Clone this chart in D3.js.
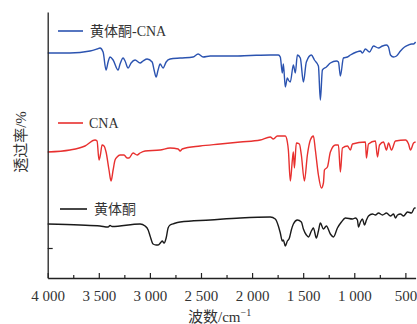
<!DOCTYPE html>
<html><head><meta charset="utf-8">
<script src="https://cdn.jsdelivr.net/npm/d3@7"></script>
<style>
body{margin:0;background:#fff;}
svg{display:block;font-family:"Liberation Serif","Noto Sans CJK SC",serif;}
</style></head>
<body><svg id="c" width="417" height="324"></svg>
<script>
// wavenumber (cm-1), transmittance (offset arbitrary units)
const seriesNames = ["黄体酮-CNA", "CNA", "黄体酮"];
const seriesColors = ["#2b53b0", "#e8302f", "#1a1a1a"];
const blueData = [[4000,225],[3782,225],[3586,227],[3517,229],[3488,230],[3458,226],[3429,208],[3409,216],[3390,221],[3360,218],[3311,208],[3292,214],[3262,220],[3243,217],[3213,210],[3184,215],[3145,218],[3096,215],[3067,217],[3027,219],[2978,216],[2959,208],[2939,201],[2920,208],[2900,214],[2871,210],[2841,216],[2802,219],[2704,220],[2577,221],[2528,224],[2479,221],[2410,222],[2185,222],[2018,222.5],[1822,223],[1743,223],[1724,221],[1704,205],[1694,214],[1675,191],[1655,200],[1645,198],[1626,196],[1596,213],[1577,205],[1557,223],[1528,220],[1498,196],[1469,216],[1420,223],[1390,218],[1351,212],[1332,178],[1312,208],[1273,211],[1234,215],[1175,217],[1155,216],[1136,202],[1106,220],[1067,221],[1038,223],[979,226],[940,227],[920,225],[891,229],[851,226],[812,232],[763,230],[724,232],[685,233],[665,231],[646,223],[616,221],[587,222],[548,227],[508,231],[469,233],[440,234],[420,234],[400,236]];
const redData = [[4000,126],[3782,128],[3635,132],[3537,138],[3517,137],[3498,118],[3483,124],[3468,133],[3449,132],[3429,126],[3400,108],[3380,97],[3360,108],[3341,118],[3321,121],[3292,123],[3253,123],[3223,120],[3204,120],[3165,125],[3125,123],[3096,125],[3047,127],[2900,128],[2802,130],[2723,129],[2704,127],[2684,129],[2508,132],[2312,134],[2116,136],[1920,138],[1822,141],[1792,139],[1753,142],[1675,142],[1655,136],[1645,128],[1626,97],[1606,118],[1596,126],[1586,110],[1567,135],[1537,134],[1518,123],[1488,97],[1459,123],[1430,138],[1400,142],[1381,128],[1351,103],[1322,90],[1302,95],[1292,108],[1263,111],[1234,126],[1185,133],[1155,133],[1136,106],[1116,130],[1067,132],[1038,128],[1018,134],[891,136],[881,120],[861,134],[793,137],[773,121],[753,133],[714,136],[685,128],[665,135],[636,128],[597,137],[499,138],[469,134],[450,128],[420,135],[400,136]];
const blackData = [[4000,54],[3684,53],[3488,52],[3409,51],[3390,52.5],[3370,51.5],[3096,54],[3047,52],[3017,48],[2998,42],[2969,34],[2939,33],[2920,33],[2890,36],[2880,37],[2861,35],[2841,40],[2822,50],[2802,53],[2763,54.5],[2704,56],[2410,58],[2116,60],[1822,61],[1773,59],[1743,52],[1724,45],[1704,37],[1694,38],[1675,32],[1655,37],[1635,40],[1616,48],[1596,54],[1557,58],[1518,56],[1498,49],[1469,43],[1449,41],[1420,47],[1400,50],[1371,40],[1351,47],[1332,55],[1302,49],[1273,52],[1234,44],[1204,41],[1165,50],[1126,56],[1087,60],[1018,59],[989,60],[969,58],[959,51],[940,56],[920,59],[900,53],[881,58],[861,62],[822,64],[793,63],[763,65],[724,63],[685,65],[646,62],[616,64],[597,60],[577,63],[548,64],[518,62],[479,66],[440,65],[410,70],[400,70]];
const xMajorTicks = [4000,3500,3000,2500,2000,1500,1000,500];
const xMinorTicks = [3750,3250,2750,2250,1750,1250,750];
const xTickLabels = ["4 000","3 500","3 000","2 500","2 000","1 500","1 000","500"];
const yTicks = [30];
const xTitle = "波数/cm";
const yTitle = "透过率/%";

const svg = d3.select("#c");
const x = d3.scaleLinear().domain([4000,400]).range([47.7,415.6]);
const y = d3.scaleLinear().domain([0,266]).range([278,12]);

const line = d3.line().x(d=>x(d[0])).y(d=>y(d[1])).curve(d3.curveMonotoneX);
[blueData, redData, blackData].forEach((data,i)=>{
  svg.append("path").datum(data).attr("d",line).attr("fill","none")
    .attr("stroke",seriesColors[i]).attr("stroke-width",1.4).attr("stroke-linejoin","round");
});

// axes
const gx = svg.append("g").attr("transform",`translate(0,${y(0)})`)
  .call(d3.axisBottom(x).tickValues(xMajorTicks).tickSizeInner(-5).tickSizeOuter(0).tickPadding(12)
    .tickFormat((d,i)=>xTickLabels[i]));
gx.selectAll("text").attr("font-size",15).attr("fill","#333").attr("font-family","Liberation Serif");
gx.select(".domain").attr("stroke","#222").attr("stroke-width",1.3);
gx.selectAll(".tick line").attr("stroke","#222").attr("stroke-width",1.2);
const gxm = svg.append("g").attr("transform",`translate(0,${y(0)})`)
  .call(d3.axisBottom(x).tickValues(xMinorTicks).tickSizeInner(-3).tickSizeOuter(0).tickFormat(""));
gxm.select(".domain").remove();
gxm.selectAll(".tick line").attr("stroke","#222").attr("stroke-width",1.2);

const gy = svg.append("g").attr("transform",`translate(${x(4000)},0)`)
  .call(d3.axisLeft(y).tickValues(yTicks).tickSizeInner(-5).tickSizeOuter(0).tickFormat(""));
gy.select(".domain").attr("stroke","#222").attr("stroke-width",1.3);
gy.selectAll(".tick line").attr("stroke","#222").attr("stroke-width",1.2);

// legends
const legends = [{lx:58,ly:31,len:25,tx:90},{lx:58,ly:123,len:25,tx:89},{lx:60,ly:209,len:27,tx:94}];
legends.forEach((L,i)=>{
  svg.append("line").attr("x1",L.lx).attr("x2",L.lx+L.len).attr("y1",L.ly).attr("y2",L.ly)
    .attr("stroke",seriesColors[i]).attr("stroke-width",1.6);
  svg.append("text").attr("x",L.tx).attr("y",L.ly+5).attr("font-size",14).attr("fill","#333").text(seriesNames[i]);
});

// titles
const xt = svg.append("text").attr("x",188).attr("y",322).attr("font-size",15).attr("fill","#333");
xt.append("tspan").text(xTitle);
xt.append("tspan").attr("dy",-6).attr("font-size",10).text("−1");
svg.append("text").attr("transform","translate(26,142) rotate(-90)").attr("text-anchor","middle")
  .attr("font-size",15).attr("fill","#333").text(yTitle);
</script></body></html>
